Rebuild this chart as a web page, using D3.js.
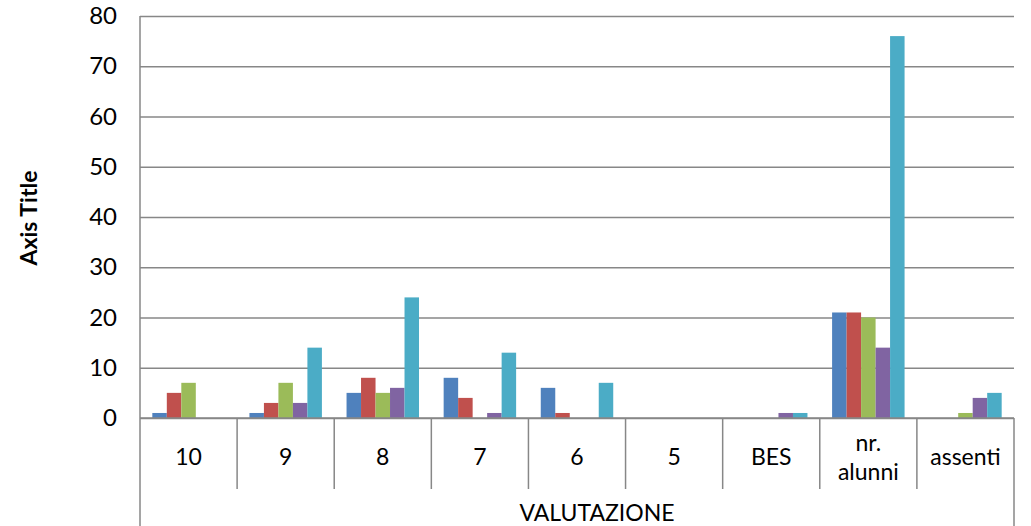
<!DOCTYPE html>
<html><head><meta charset="utf-8">
<script src="https://cdn.jsdelivr.net/npm/d3@7"></script>
<style>
html,body{margin:0;padding:0;background:#fff;}
svg{display:block;font-family:Lato,"Open Sans",sans-serif;}
</style></head>
<body>
<svg id="c" width="1031" height="526"></svg>
<script>
const categories = ["10","9","8","7","6","5","BES","nr. alunni","assenti"];
const seriesNames = ["S1","S2","S3","S4","S5"];
const seriesColors = ["#4F81BD","#C0504D","#9BBB59","#8064A2","#4BACC6"];
const s1 = [1,1,5,8,6,0,0,21,0];
const s2 = [5,3,8,4,1,0,0,21,0];
const s3 = [7,7,5,0,0,0,0,20,1];
const s4 = [0,3,6,1,0,0,1,14,4];
const s5 = [0,14,24,13,7,0,1,76,5];
const seriesValues = [s1,s2,s3,s4,s5];
const yTicks = [0,10,20,30,40,50,60,70,80];
const xGroupLabel = "VALUTAZIONE";
const yTitle = "Axis Title";

const svg = d3.select("#c");
const L = 140, R = 1014, T = 16, B = 418;
const gridColor = "#878787";

const x0 = d3.scaleBand().domain(categories).range([L, R]).paddingInner(0).paddingOuter(0);
const x1 = d3.scaleBand().domain(seriesNames).range([0, x0.bandwidth()]).paddingInner(0).paddingOuter(0.85);
const y = d3.scaleLinear().domain([0, 80]).range([B, T]);

// gridlines
const yAxis = d3.axisLeft(y).tickValues(yTicks).tickSize(-(R - L)).tickPadding(23);
const gy = svg.append("g").attr("transform", `translate(${L},0)`).call(yAxis);
gy.select(".domain").remove();
gy.selectAll(".tick line").attr("stroke", gridColor).attr("stroke-width", 1.5);
gy.selectAll(".tick text").attr("font-size", 24).attr("fill", "#000").attr("font-family", "Lato, sans-serif");

// bars
const g = svg.append("g");
categories.forEach((c, i) => {
  seriesNames.forEach((s, j) => {
    const v = seriesValues[j][i];
    if (v > 0) {
      g.append("rect")
        .attr("x", x0(c) + x1(s))
        .attr("y", y(v))
        .attr("width", x1.bandwidth())
        .attr("height", y(0) - y(v))
        .attr("fill", seriesColors[j]);
    }
  });
});

// axis lines
svg.append("line").attr("x1", L).attr("x2", L).attr("y1", T).attr("y2", 526)
  .attr("stroke", gridColor).attr("stroke-width", 1.5);
svg.append("line").attr("x1", R).attr("x2", R).attr("y1", B).attr("y2", 526)
  .attr("stroke", gridColor).attr("stroke-width", 1.5);
svg.append("line").attr("x1", L).attr("x2", R).attr("y1", B).attr("y2", B)
  .attr("stroke", gridColor).attr("stroke-width", 1.5);
categories.slice(1).forEach(c => {
  svg.append("line").attr("x1", x0(c)).attr("x2", x0(c)).attr("y1", B).attr("y2", 489)
    .attr("stroke", gridColor).attr("stroke-width", 1.5);
});

// category labels
categories.forEach(c => {
  const cx = x0(c) + x0.bandwidth() / 2;
  const parts = c === "nr. alunni" ? ["nr.", "alunni"] : [c];
  const t = svg.append("text").attr("text-anchor", "middle").attr("font-size", 23).attr("fill", "#000");
  if (parts.length === 1) {
    t.attr("x", cx).attr("y", 457).attr("dy", "0.35em").text(c);
  } else {
    parts.forEach((p, k) => {
      t.append("tspan").attr("x", cx).attr("y", 443 + k * 29).attr("dy", "0.35em").text(p);
    });
  }
});

svg.append("text").attr("x", 597).attr("y", 513).attr("dy", "0.35em")
  .attr("text-anchor", "middle").attr("font-size", 23).attr("fill", "#000").text(xGroupLabel);

svg.append("text").attr("transform", "translate(29,218) rotate(-90)").attr("dy", "0.35em")
  .attr("text-anchor", "middle").attr("font-size", 23).attr("font-weight", "bold").attr("fill", "#000").text(yTitle);
</script>
</body></html>
